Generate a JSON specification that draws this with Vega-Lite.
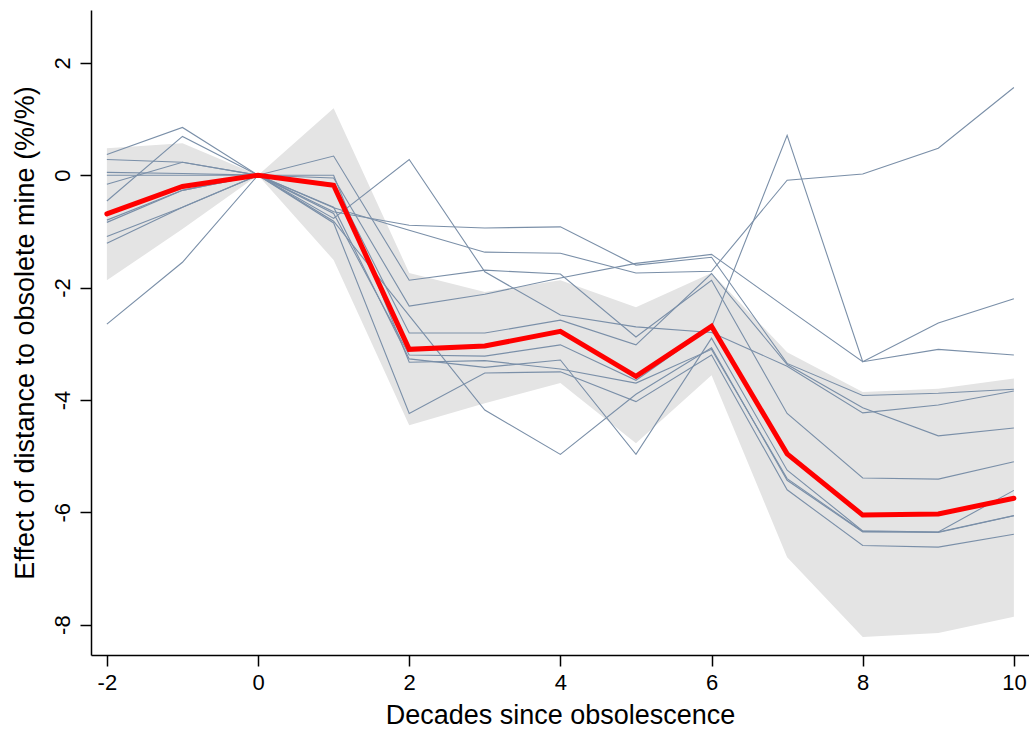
{
  "$schema": "https://vega.github.io/schema/vega-lite/v6.json",
  "width": 938,
  "height": 645,
  "autosize": "none",
  "padding": {"left": 91, "top": 10, "right": 0, "bottom": 79},
  "background": "white",
  "config": {
    "view": {"stroke": null},
    "font": "Liberation Sans",
    "axis": {
      "grid": false,
      "domainColor": "#000000",
      "domainWidth": 1.5,
      "tickColor": "#000000",
      "tickWidth": 1.5,
      "tickSize": 11,
      "labelColor": "#000000",
      "titleColor": "#000000",
      "labelFont": "Liberation Sans",
      "titleFont": "Liberation Sans",
      "labelFontSize": 22,
      "titleFontSize": 27,
      "titleFontWeight": "normal"
    }
  },
  "datasets": {
    "band": [
      {"decade": -2, "lo": -1.87, "hi": 0.48},
      {"decade": -1, "lo": -0.96, "hi": 0.57},
      {"decade": 0, "lo": 0, "hi": 0},
      {"decade": 1, "lo": -1.51, "hi": 1.19},
      {"decade": 2, "lo": -4.45, "hi": -1.74},
      {"decade": 3, "lo": -4.06, "hi": -2.08},
      {"decade": 4, "lo": -3.7, "hi": -1.87},
      {"decade": 5, "lo": -4.77, "hi": -2.35},
      {"decade": 6, "lo": -3.56, "hi": -1.74},
      {"decade": 7, "lo": -6.8, "hi": -3.15},
      {"decade": 8, "lo": -8.22, "hi": -3.86},
      {"decade": 9, "lo": -8.15, "hi": -3.8},
      {"decade": 10, "lo": -7.86, "hi": -3.62}
    ],
    "mean": [
      {"decade": -2, "effect": -0.69},
      {"decade": -1, "effect": -0.2},
      {"decade": 0, "effect": 0},
      {"decade": 1, "effect": -0.18},
      {"decade": 2, "effect": -3.1},
      {"decade": 3, "effect": -3.04},
      {"decade": 4, "effect": -2.78},
      {"decade": 5, "effect": -3.58},
      {"decade": 6, "effect": -2.69},
      {"decade": 7, "effect": -4.96},
      {"decade": 8, "effect": -6.05},
      {"decade": 9, "effect": -6.03},
      {"decade": 10, "effect": -5.75}
    ],
    "paths": [
      {"run": 1, "decade": -2, "effect": -0.84}, {"run": 1, "decade": -1, "effect": -0.27}, {"run": 1, "decade": 0, "effect": 0}, {"run": 1, "decade": 1, "effect": -0.58}, {"run": 1, "decade": 2, "effect": -0.98}, {"run": 1, "decade": 3, "effect": -1.37}, {"run": 1, "decade": 4, "effect": -1.39}, {"run": 1, "decade": 5, "effect": -1.74}, {"run": 1, "decade": 6, "effect": -1.71}, {"run": 1, "decade": 7, "effect": -0.09}, {"run": 1, "decade": 8, "effect": 0.02}, {"run": 1, "decade": 9, "effect": 0.48}, {"run": 1, "decade": 10, "effect": 1.56},
      {"run": 2, "decade": -2, "effect": -1.21}, {"run": 2, "decade": -1, "effect": -0.57}, {"run": 2, "decade": 0, "effect": 0}, {"run": 2, "decade": 1, "effect": -0.65}, {"run": 2, "decade": 2, "effect": -0.89}, {"run": 2, "decade": 3, "effect": -0.94}, {"run": 2, "decade": 4, "effect": -0.92}, {"run": 2, "decade": 5, "effect": -1.6}, {"run": 2, "decade": 6, "effect": -1.46}, {"run": 2, "decade": 7, "effect": -3.35}, {"run": 2, "decade": 8, "effect": -3.92}, {"run": 2, "decade": 9, "effect": -3.88}, {"run": 2, "decade": 10, "effect": -3.81},
      {"run": 3, "decade": -2, "effect": -0.46}, {"run": 3, "decade": -1, "effect": 0.69}, {"run": 3, "decade": 0, "effect": 0}, {"run": 3, "decade": 1, "effect": -0.77}, {"run": 3, "decade": 2, "effect": 0.28}, {"run": 3, "decade": 3, "effect": -1.72}, {"run": 3, "decade": 4, "effect": -2.49}, {"run": 3, "decade": 5, "effect": -2.7}, {"run": 3, "decade": 6, "effect": -2.8}, {"run": 3, "decade": 7, "effect": -3.4}, {"run": 3, "decade": 8, "effect": -4.23}, {"run": 3, "decade": 9, "effect": -4.09}, {"run": 3, "decade": 10, "effect": -3.84},
      {"run": 4, "decade": -2, "effect": 0.28}, {"run": 4, "decade": -1, "effect": 0.23}, {"run": 4, "decade": 0, "effect": 0}, {"run": 4, "decade": 1, "effect": -0.05}, {"run": 4, "decade": 2, "effect": -2.33}, {"run": 4, "decade": 3, "effect": -2.12}, {"run": 4, "decade": 4, "effect": -1.83}, {"run": 4, "decade": 5, "effect": -1.57}, {"run": 4, "decade": 6, "effect": -1.41}, {"run": 4, "decade": 7, "effect": -2.37}, {"run": 4, "decade": 8, "effect": -3.32}, {"run": 4, "decade": 9, "effect": -3.1}, {"run": 4, "decade": 10, "effect": -3.2},
      {"run": 5, "decade": -2, "effect": 0.37}, {"run": 5, "decade": -1, "effect": 0.85}, {"run": 5, "decade": 0, "effect": 0}, {"run": 5, "decade": 1, "effect": 0.34}, {"run": 5, "decade": 2, "effect": -1.87}, {"run": 5, "decade": 3, "effect": -1.69}, {"run": 5, "decade": 4, "effect": -1.76}, {"run": 5, "decade": 5, "effect": -2.88}, {"run": 5, "decade": 6, "effect": -1.87}, {"run": 5, "decade": 7, "effect": -4.24}, {"run": 5, "decade": 8, "effect": -5.39}, {"run": 5, "decade": 9, "effect": -5.41}, {"run": 5, "decade": 10, "effect": -5.1},
      {"run": 6, "decade": -2, "effect": -0.8}, {"run": 6, "decade": -1, "effect": -0.27}, {"run": 6, "decade": 0, "effect": 0}, {"run": 6, "decade": 1, "effect": -0.68}, {"run": 6, "decade": 2, "effect": -3.2}, {"run": 6, "decade": 3, "effect": -3.22}, {"run": 6, "decade": 4, "effect": -3.02}, {"run": 6, "decade": 5, "effect": -3.65}, {"run": 6, "decade": 6, "effect": -2.7}, {"run": 6, "decade": 7, "effect": 0.71}, {"run": 6, "decade": 8, "effect": -3.32}, {"run": 6, "decade": 9, "effect": -2.63}, {"run": 6, "decade": 10, "effect": -2.2},
      {"run": 7, "decade": -2, "effect": -2.65}, {"run": 7, "decade": -1, "effect": -1.55}, {"run": 7, "decade": 0, "effect": 0}, {"run": 7, "decade": 1, "effect": -0.82}, {"run": 7, "decade": 2, "effect": -2.5}, {"run": 7, "decade": 3, "effect": -4.18}, {"run": 7, "decade": 4, "effect": -4.97}, {"run": 7, "decade": 5, "effect": -3.9}, {"run": 7, "decade": 6, "effect": -3.07}, {"run": 7, "decade": 7, "effect": -5.43}, {"run": 7, "decade": 8, "effect": -6.35}, {"run": 7, "decade": 9, "effect": -6.35}, {"run": 7, "decade": 10, "effect": -6.06},
      {"run": 8, "decade": -2, "effect": -0.16}, {"run": 8, "decade": -1, "effect": 0.23}, {"run": 8, "decade": 0, "effect": 0}, {"run": 8, "decade": 1, "effect": -0.57}, {"run": 8, "decade": 2, "effect": -3.27}, {"run": 8, "decade": 3, "effect": -3.42}, {"run": 8, "decade": 4, "effect": -3.29}, {"run": 8, "decade": 5, "effect": -4.97}, {"run": 8, "decade": 6, "effect": -2.9}, {"run": 8, "decade": 7, "effect": -5.25}, {"run": 8, "decade": 8, "effect": -6.33}, {"run": 8, "decade": 9, "effect": -6.35}, {"run": 8, "decade": 10, "effect": -5.61},
      {"run": 9, "decade": -2, "effect": -1.09}, {"run": 9, "decade": -1, "effect": -0.57}, {"run": 9, "decade": 0, "effect": 0}, {"run": 9, "decade": 1, "effect": -0.85}, {"run": 9, "decade": 2, "effect": -4.24}, {"run": 9, "decade": 3, "effect": -3.52}, {"run": 9, "decade": 4, "effect": -3.5}, {"run": 9, "decade": 5, "effect": -4.03}, {"run": 9, "decade": 6, "effect": -3.2}, {"run": 9, "decade": 7, "effect": -5.6}, {"run": 9, "decade": 8, "effect": -6.59}, {"run": 9, "decade": 9, "effect": -6.62}, {"run": 9, "decade": 10, "effect": -6.39},
      {"run": 10, "decade": -2, "effect": 0.05}, {"run": 10, "decade": -1, "effect": 0.03}, {"run": 10, "decade": 0, "effect": 0}, {"run": 10, "decade": 1, "effect": -0.15}, {"run": 10, "decade": 2, "effect": -2.81}, {"run": 10, "decade": 3, "effect": -2.81}, {"run": 10, "decade": 4, "effect": -2.58}, {"run": 10, "decade": 5, "effect": -3.02}, {"run": 10, "decade": 6, "effect": -1.75}, {"run": 10, "decade": 7, "effect": -3.37}, {"run": 10, "decade": 8, "effect": -4.14}, {"run": 10, "decade": 9, "effect": -4.64}, {"run": 10, "decade": 10, "effect": -4.5},
      {"run": 11, "decade": -2, "effect": 0.0}, {"run": 11, "decade": -1, "effect": 0.0}, {"run": 11, "decade": 0, "effect": 0}, {"run": 11, "decade": 1, "effect": 0.0}, {"run": 11, "decade": 2, "effect": -3.33}, {"run": 11, "decade": 3, "effect": -3.3}, {"run": 11, "decade": 4, "effect": -3.45}, {"run": 11, "decade": 5, "effect": -3.7}, {"run": 11, "decade": 6, "effect": -3.1}, {"run": 11, "decade": 7, "effect": -5.4}, {"run": 11, "decade": 8, "effect": -6.34}, {"run": 11, "decade": 9, "effect": -6.36}, {"run": 11, "decade": 10, "effect": -6.06}
    ]
  },
  "layer": [
    {
      "mark": {"type": "rule", "color": "#555555", "strokeWidth": 1.5, "strokeDash": [15, 8]},
      "encoding": {"y": {"datum": 0, "type": "quantitative", "scale": {"domain": [-8.54, 2.94], "nice": false, "zero": false}}}
    },
    {
      "data": {"name": "band"},
      "mark": {"type": "area", "color": "#e4e4e4", "opacity": 1},
      "encoding": {
        "x": {"field": "decade", "type": "quantitative"},
        "y": {"field": "lo", "type": "quantitative"},
        "y2": {"field": "hi"}
      }
    },
    {
      "data": {"name": "paths"},
      "mark": {"type": "line", "color": "#7a8fa8", "strokeWidth": 1.1},
      "encoding": {
        "x": {"field": "decade", "type": "quantitative"},
        "y": {"field": "effect", "type": "quantitative"},
        "detail": {"field": "run"}
      }
    },
    {
      "data": {"name": "mean"},
      "mark": {"type": "line", "color": "#ff0000", "strokeWidth": 5, "strokeJoin": "miter", "strokeCap": "round"},
      "encoding": {
        "x": {
          "field": "decade",
          "type": "quantitative",
          "scale": {"domain": [-2.21, 10.2], "nice": false, "zero": false},
          "axis": {"values": [-2, 0, 2, 4, 6, 8, 10], "labelExpr": "'' + datum.value", "title": "Decades since obsolescence", "labelPadding": 6, "titlePadding": 9, "labelFlush": false, "labelOverlap": false}
        },
        "y": {
          "field": "effect",
          "type": "quantitative",
          "scale": {"domain": [-8.54, 2.94], "nice": false, "zero": false},
          "axis": {"values": [-8, -6, -4, -2, 0, 2], "labelExpr": "'' + datum.value", "title": "Effect of distance to obsolete mine (%/%)", "labelAngle": -90, "labelAlign": "center", "labelBaseline": "bottom", "labelPadding": 6, "titlePadding": 12, "labelFlush": false, "labelOverlap": false}
        }
      }
    }
  ]
}
